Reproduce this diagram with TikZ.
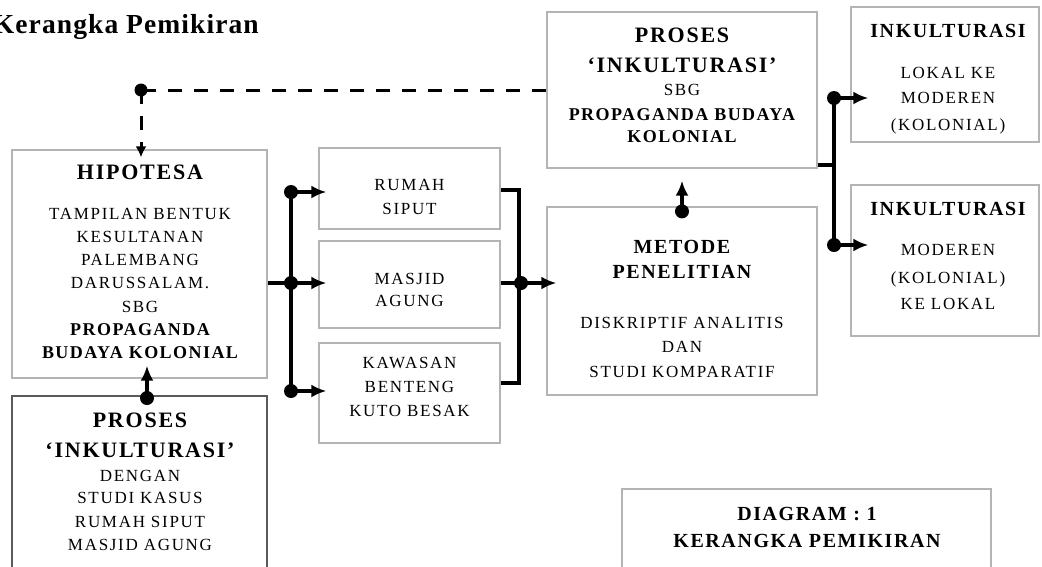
\documentclass[tikz,border=0pt]{standalone}
\usepackage{fontspec}
\setmainfont{Liberation Serif}
\newfontfamily\fsmfam[LetterSpace=10]{Liberation Serif}
\newfontfamily\fbdfam[LetterSpace=8]{Liberation Serif}
\newfontfamily\fttfam[LetterSpace=4]{Liberation Serif}
\usetikzlibrary{arrows.meta}
\newcommand\TxSm{\fsmfam\fontsize{17}{24}\selectfont}
\newcommand\TxBd{\fbdfam\bfseries\fontsize{20}{24}\selectfont}
\newcommand\TxBb{\fbdfam\bfseries\fontsize{22}{24}\selectfont}
\newcommand\TxBs{\fbdfam\bfseries\fontsize{18}{24}\selectfont}
\definecolor{boxgray}{HTML}{B4B4B4}
\definecolor{darkbox}{HTML}{5A5A5A}
\tikzset{
  box/.style={draw=boxgray, line width=1.3pt, inner sep=0pt},
  darkframe/.style={draw=darkbox, line width=2pt, inner sep=0pt},
  txt/.style={align=center, inner sep=0pt, anchor=north, font=\TxSm},
  conn/.style={line width=3.5pt, line cap=butt},
  arr/.style={-{Latex[length=15pt,width=13pt]}},
  dsh/.style={line width=3pt, dash pattern=on 14pt off 12pt},
  dotr/.style={},
}
\begin{document}
\begin{tikzpicture}[x=1pt, y=-1pt]
\useasboundingbox (0,0) rectangle (1042,566);
\clip (0,0) rectangle (1042,566);
\fill[white] (0,0) rectangle (1042,566);

% title
\node[anchor=base east, inner sep=0pt, font=\fttfam\bfseries\fontsize{27.5}{30}\selectfont] (title) at (259,33) {Kerangka Pemikiran};

% boxes
\node[box, minimum width=255pt, minimum height=228pt] (hip) at (139.5,264) {};
\node[darkframe, minimum width=255pt, minimum height=204pt] (pb) at (139.5,498) {};
\node[box, minimum width=181pt, minimum height=81pt] (rum) at (409.5,188.5) {};
\node[box, minimum width=181pt, minimum height=87pt] (mas) at (409.5,284.5) {};
\node[box, minimum width=181pt, minimum height=100pt] (kaw) at (409.5,393) {};
\node[box, minimum width=270pt, minimum height=188pt] (met) at (682,301) {};
\node[box, minimum width=270pt, minimum height=156pt] (pt) at (682,90) {};
\node[box, minimum width=188pt, minimum height=135pt] (ik1) at (945,74.5) {};
\node[box, minimum width=188pt, minimum height=151pt] (ik2) at (945,260.5) {};
\node[box, minimum width=369pt, minimum height=111pt] (dia) at (806.5,544.5) {};

% texts
\node[txt, font={\TxSm\baselineskip=23.3pt}] (hipT) at (140,165) {{\TxBb HIPOTESA}\\[16pt]
  TAMPILAN BENTUK\\ KESULTANAN\\ PALEMBANG\\ DARUSSALAM.\\ SBG\\
  {\TxBs PROPAGANDA}\\ {\TxBs BUDAYA KOLONIAL}};
\node[txt] (rumT) at (409.5,179) {RUMAH\\ SIPUT};
\node[txt, font={\TxSm\baselineskip=22pt}] (masT) at (409.5,273) {MASJID\\ AGUNG};
\node[txt] (kawT) at (409.5,357) {KAWASAN\\ BENTENG\\ KUTO BESAK};
\node[txt] (pbT) at (140,412.7) {{\TxBb PROSES}\\[6pt] {\TxBb ‘INKULTURASI’}\\
  DENGAN\\[-2pt] STUDI KASUS\\ RUMAH SIPUT\\[-1pt] MASJID AGUNG};
\node[txt] (ptT) at (682,27.4) {{\TxBb PROSES}\\[6pt] {\TxBb ‘INKULTURASI’}\\[-1pt]
  SBG\\[1pt] {\TxBs PROPAGANDA BUDAYA}\\[-2pt] {\TxBs KOLONIAL}};
\node[txt] (ik1T) at (948,23.8) {{\TxBd INKULTURASI}\\[17pt] LOKAL KE\\[1pt] MODEREN\\[3pt] (KOLONIAL)};
\node[txt] (ik2T) at (948,202) {{\TxBd INKULTURASI}\\[16pt] MODEREN\\[4pt] (KOLONIAL)\\[2pt] KE LOKAL};
\node[txt] (metT) at (682,240) {{\TxBd METODE}\\[1pt] {\TxBd PENELITIAN}\\[26pt]
  DISKRIPTIF ANALITIS\\ DAN\\[1pt] STUDI KOMPARATIF};
\node[txt] (diaT) at (807,507) {{\TxBd DIAGRAM : 1}\\[3pt] {\TxBd KERANGKA PEMIKIRAN}};

% dashed feedback
\coordinate (d0) at (141,90);
\draw[dsh] (pt.west |- d0) -- (d0);
\draw[dsh, -{Latex[length=11pt,width=11pt]}, shorten >=-8pt] (d0) -- (d0 |- hip.north);
\fill (d0) circle (6.5pt);

% hipotesa split
\coordinate (a1) at (291,192);
\coordinate (a2) at (291,283);
\coordinate (a3) at (291,391);
\draw[conn] (hip.east |- a2) -- (a2);
\draw[conn] (a1) -- (a3);
\draw[conn, arr, shorten >=-8pt] (a1) -- (a1 -| rum.west);
\draw[conn, arr, shorten >=-8pt] (a2) -- (a2 -| mas.west);
\draw[conn, arr, shorten >=-8pt] (a3) -- (a3 -| kaw.west);
\foreach \p in {a1,a2,a3} \fill (\p) circle (7pt);

% join to metode
\coordinate (b1) at (519,190);
\coordinate (b2) at (519,283);
\coordinate (b3) at (519,383);
\draw[conn, line join=miter] (rum.east |- b1) -- (b1) -- (b3) -- (kaw.east |- b3);
\draw[conn] (mas.east |- b2) -- (b2);
\draw[conn, arr, shorten >=-10pt] ([xshift=2pt]b2) -- (b2 -| met.west);
\fill ([xshift=2pt]b2) circle (7pt);

% metode to proses
\draw[conn, arr, shorten >=12pt] (met.north) -- (pt.south);
\fill ([yshift=-5pt]met.north) circle (7pt);

% proses to inkulturasi
\coordinate (c0) at (834,165);
\coordinate (c1) at (834,98);
\coordinate (c2) at (834,245);
\draw[conn] (pt.east |- c0) -- (c0);
\draw[conn] (c1) -- (c2);
\draw[conn, arr, shorten >=-18pt] (c1) -- (c1 -| ik1.west);
\draw[conn, arr, shorten >=-18pt] (c2) -- (c2 -| ik2.west);
\foreach \p in {c1,c2} \fill (\p) circle (7pt);

% bottom proses to hipotesa
\coordinate (e0) at (147,398);
\draw[conn, arr, shorten >=-13pt] (e0) -- (e0 |- hip.south);
\fill (e0) circle (7pt);
\end{tikzpicture}
\end{document}
